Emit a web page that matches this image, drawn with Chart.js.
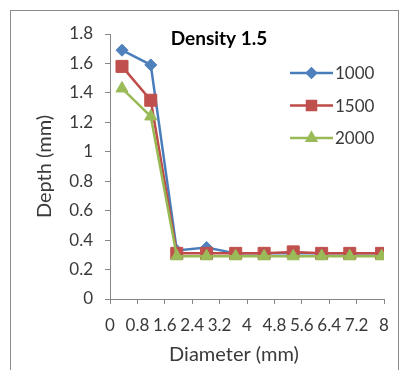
<!DOCTYPE html>
<html>
<head>
<meta charset="utf-8">
<script src="https://cdn.jsdelivr.net/npm/chart.js@4"></script>
<style>
  html, body { margin: 0; padding: 0; background: #fff; }
  #wrap { width: 401px; height: 370px; }
</style>
</head>
<body>
<div id="wrap"><canvas id="depthChart" width="401" height="370"></canvas></div>
<script>
// diameter (mm) of each measuring point
const diameters = [0.35, 1.19, 1.95, 2.82, 3.67, 4.5, 5.35, 6.18, 7.0, 7.93];
// depth (mm) per speed setting
const depth1000 = [1.69, 1.59, 0.33, 0.35, 0.31, 0.31, 0.31, 0.31, 0.31, 0.31];
const depth1500 = [1.58, 1.35, 0.31, 0.31, 0.31, 0.31, 0.32, 0.31, 0.31, 0.31];
const depth2000 = [1.43, 1.24, 0.29, 0.29, 0.29, 0.29, 0.29, 0.29, 0.29, 0.29];
const seriesLabels = ['1000', '1500', '2000'];
const chartTitle = 'Density 1.5';
const xTitle = 'Diameter (mm)';

const FONT = 'Lato, "Open Sans", sans-serif';
const TEXT = '#3a3a3a';
const AXIS = '#868686';

function points(ys) {
  return ys.map((y, i) => ({ x: diameters[i], y: y }));
}

// 1 instead of 1.0, 0.8 instead of 0.8000000001
function tickText(v) {
  return String(Math.round(v * 10) / 10);
}

// gray frame round the whole chart
const framePlugin = {
  id: 'frame',
  beforeDraw(chart) {
    const c = chart.ctx;
    c.save();
    c.fillStyle = '#fff';
    c.fillRect(0, 0, chart.width, chart.height);
    c.strokeStyle = '#8c8c8c';
    c.lineWidth = 1;
    c.strokeRect(10.5, 10.5, 388, 380);
    c.restore();
  }
};

// title and legend sit inside the plot area, x title is centred on the frame
const insidePlugin = {
  id: 'inside',
  afterDraw(chart) {
    const c = chart.ctx;
    c.save();
    c.fillStyle = '#000';
    c.font = 'bold 19px ' + FONT;
    c.textAlign = 'center';
    c.textBaseline = 'alphabetic';
    c.fillText(chartTitle, 219, 45);

    c.fillStyle = TEXT;
    c.font = '20px ' + FONT;
    c.textBaseline = 'middle';
    c.fillText(xTitle, 234, 355);

    c.font = '17px ' + FONT;
    c.textAlign = 'left';
    chart.data.datasets.forEach((ds, i) => {
      const y = 73 + i * 32.5;
      c.strokeStyle = ds.borderColor;
      c.lineWidth = 2.5;
      c.beginPath();
      c.moveTo(290, y);
      c.lineTo(333, y);
      c.stroke();
      c.fillStyle = ds.pointBackgroundColor;
      c.strokeStyle = ds.pointBorderColor;
      Chart.helpers.drawPoint(c, {
        pointStyle: ds.pointStyle,
        radius: ds.pointRadius * 0.75,
        borderWidth: 1,
        rotation: 0
      }, 311.5, y);
      c.fillStyle = TEXT;
      c.fillText(ds.label, 335, y + 1);
    });
    c.restore();
  }
};

function series(label, ys, line, fill, style, radius, order) {
  return {
    label: label,
    data: points(ys),
    showLine: true,
    borderColor: line,
    borderWidth: 2.5,
    pointStyle: style,
    pointRadius: radius,
    pointHoverRadius: radius,
    pointBackgroundColor: fill,
    pointBorderColor: fill,
    pointBorderWidth: 1,
    order: order
  };
}

new Chart(document.getElementById('depthChart'), {
  type: 'scatter',
  data: {
    datasets: [
      series(seriesLabels[0], depth1000, '#4a7ebb', '#4f81bd', 'rectRot', 6, 2),
      series(seriesLabels[1], depth1500, '#be4b48', '#c0504d', 'rect', 8.5, 1),
      series(seriesLabels[2], depth2000, '#98b954', '#9bbb59', 'triangle', 7, 0)
    ]
  },
  options: {
    responsive: false,
    animation: false,
    layout: { padding: { top: 34, right: 17, bottom: 0, left: 0 } },
    plugins: {
      legend: { display: false },
      tooltip: { enabled: false },
      title: { display: false }
    },
    scales: {
      x: {
        type: 'linear',
        min: 0,
        max: 8,
        afterFit(s) { s.height = 71; },
        ticks: {
          stepSize: 0.8,
          autoSkip: false,
          maxRotation: 0,
          color: TEXT,
          padding: 11,
          font: { family: FONT, size: 17 },
          callback: tickText
        },
        grid: { drawOnChartArea: false, color: AXIS, tickLength: 5 },
        border: { color: AXIS },
        title: { display: false }
      },
      y: {
        min: 0,
        max: 1.8,
        afterFit(s) { s.width = 110; },
        ticks: {
          stepSize: 0.2,
          color: TEXT,
          padding: 12,
          font: { family: FONT, size: 17 },
          callback: tickText
        },
        grid: { drawOnChartArea: false, color: AXIS, tickLength: 5 },
        border: { color: AXIS },
        title: {
          display: true,
          text: 'Depth (mm)',
          color: TEXT,
          padding: { top: 33, bottom: 0 },
          font: { family: FONT, size: 20 }
        }
      }
    }
  },
  plugins: [framePlugin, insidePlugin]
});
</script>
</body>
</html>
